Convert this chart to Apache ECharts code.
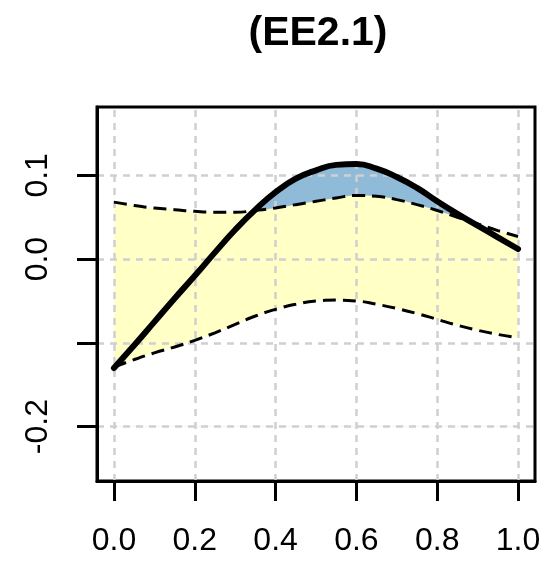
<!DOCTYPE html>
<html>
<head>
<meta charset="utf-8">
<script src="https://cdn.jsdelivr.net/npm/echarts@6/dist/echarts.min.js"></script>
<style>html,body{margin:0;padding:0;background:#fff}#c{width:552px;height:562px}</style>
</head>
<body>
<div id="c"></div>
<script>
const xs      = [0.00,0.05,0.10,0.15,0.20,0.25,0.30,0.35,0.40,0.45,0.50,0.55,0.60,0.65,0.70,0.75,0.80,0.85,0.90,0.95,1.00];
const estimate= [-0.130,-0.103,-0.075,-0.047,-0.020,0.008,0.035,0.059,0.080,0.096,0.106,0.1125,0.1135,0.108,0.098,0.085,0.069,0.054,0.040,0.026,0.012];
const upper   = [0.068,0.064,0.061,0.059,0.057,0.056,0.056,0.058,0.061,0.065,0.069,0.073,0.076,0.075,0.071,0.065,0.058,0.050,0.042,0.034,0.027];
const lower   = [-0.129,-0.120,-0.112,-0.105,-0.097,-0.088,-0.078,-0.068,-0.060,-0.054,-0.050,-0.049,-0.050,-0.054,-0.059,-0.065,-0.072,-0.079,-0.085,-0.090,-0.094];
const xTicks  = [0,0.2,0.4,0.6,0.8,1.0];
const yTicks  = [-0.2,-0.1,0,0.1];
const yLabels = [-0.2,0,0.1];
const titleText = '(EE2.1)';

const pair = arr => xs.map((x,i)=>[x,arr[i]]);
const FONT = 'Liberation Sans, Arial, sans-serif';
const SM = 0.5;
const base = -0.2;
const chart = echarts.init(document.getElementById('c'), null, {renderer:'canvas'});
chart.setOption({
  animation:false,
  backgroundColor:'#fff',
  title:{text:titleText,left:313,top:8,textAlign:'center',
    textStyle:{fontFamily:FONT,fontSize:41,fontWeight:'bold',color:'#000'}},
  grid:{left:97,right:17,top:107,bottom:81,show:true,borderColor:'#000',borderWidth:3,backgroundColor:'transparent'},
  xAxis:{type:'value',min:-0.042,max:1.042,z:10,
    axisLine:{show:true,onZero:false,lineStyle:{color:'#000',width:3}},
    splitLine:{show:false},
    axisTick:{show:true,inside:false,length:20,customValues:xTicks,lineStyle:{color:'#000',width:3}},
    axisLabel:{customValues:xTicks,margin:44,fontFamily:FONT,fontSize:32,color:'#000',
      formatter:v=>v.toFixed(1)}},
  yAxis:{type:'value',min:-0.265,max:0.1816,z:10,
    axisLine:{show:true,onZero:false,lineStyle:{color:'#000',width:3}},
    splitLine:{show:false},
    axisTick:{show:true,inside:false,length:20,customValues:yTicks,lineStyle:{color:'#000',width:3}},
    axisLabel:{customValues:yLabels,margin:43,rotate:90,fontFamily:FONT,fontSize:32,color:'#000',
      formatter:v=>v.toFixed(1)}},
  series:[
    {type:'line',data:pair(estimate),smooth:SM,symbol:'none',z:1,silent:true,
      lineStyle:{width:0,opacity:0},areaStyle:{color:'#8FBBD9',opacity:1,origin:base}},
    {type:'line',data:pair(upper),smooth:SM,symbol:'none',z:2,silent:true,
      lineStyle:{width:0,opacity:0},areaStyle:{color:'#FFFFC6',opacity:1,origin:base}},
    {type:'line',data:pair(lower),smooth:SM,symbol:'none',z:3,silent:true,
      lineStyle:{width:0,opacity:0},areaStyle:{color:'#FFFFFF',opacity:1,origin:base}},
    {type:'line',data:pair(lower),symbol:'none',z:4,silent:true,lineStyle:{opacity:0,width:0},
      markLine:{silent:true,symbol:'none',label:{show:false},animation:false,
        lineStyle:{color:'#D0D0D0',width:2.5,type:[7,6]},
        data:xTicks.map(v=>({xAxis:v})).concat(yTicks.map(v=>({yAxis:v})))}},
    {type:'line',data:pair(upper),smooth:SM,symbol:'none',z:5,silent:true,
      lineStyle:{color:'#000',width:3,type:[13,7]}},
    {type:'line',data:pair(lower),smooth:SM,symbol:'none',z:5,silent:true,
      lineStyle:{color:'#000',width:3,type:[13,7]}},
    {type:'line',data:pair(estimate),smooth:SM,symbol:'none',z:6,silent:true,
      lineStyle:{color:'#000',width:6,cap:'round'}}
  ]
});
</script>
</body>
</html>
